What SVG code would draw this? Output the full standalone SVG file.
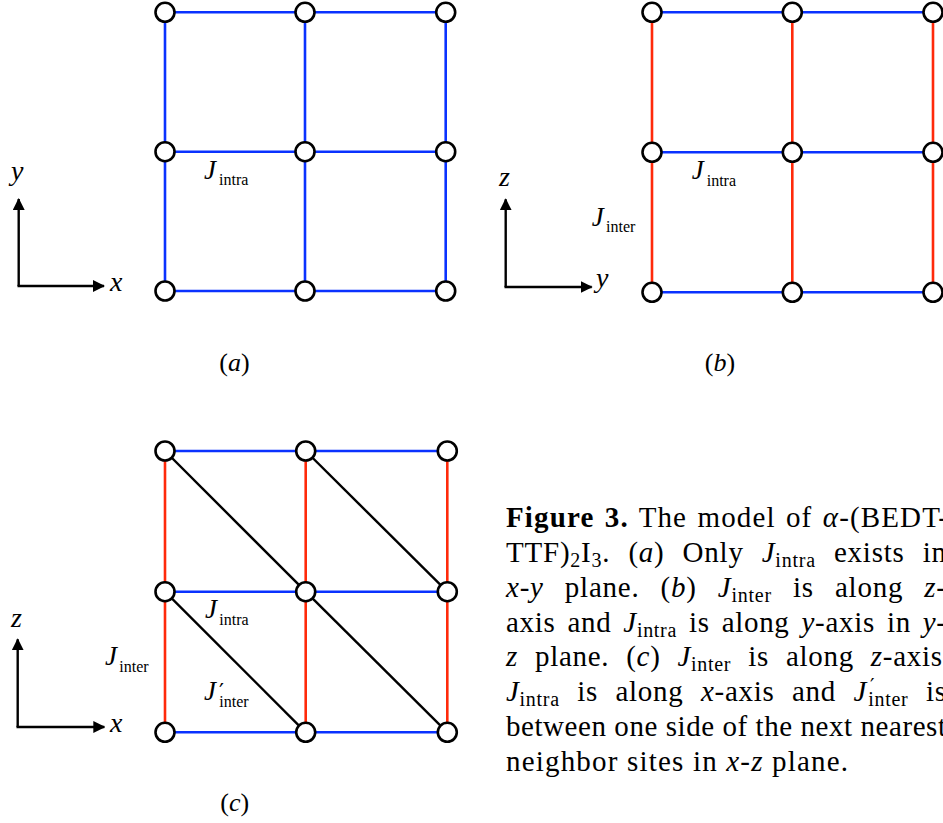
<svg xmlns="http://www.w3.org/2000/svg" width="943" height="823" viewBox="0 0 943 823">
<style>
.b{stroke:#0a32ff;stroke-width:2.6;fill:none}
.r{stroke:#ff2a0a;stroke-width:2.6;fill:none}
.k{stroke:#000;stroke-width:2.4;fill:none}
.ax{stroke:#000;stroke-width:2.4;fill:none;marker-end:url(#ah)}
.n{fill:#fff;stroke:#000;stroke-width:2.6}
text{font-family:"Liberation Serif","Times New Roman",Times,serif;fill:#000}
.it{font-style:italic}
.J{font-style:italic;font-size:27px}
.s{font-size:16px}
.axl{font-style:italic;font-size:28px}
.cap{font-size:26px}
.t{font-size:29px}
.sub{font-size:20px}
.pr{font-family:"DejaVu Sans",sans-serif}
</style>
<defs>
<marker id="ah" markerUnits="userSpaceOnUse" markerWidth="12" markerHeight="12" refX="11" refY="6" orient="auto">
<path d="M0,0 L12,6 L0,12 z" fill="#000"/>
</marker>
</defs>

<g id="connectors">
<!-- panel a -->
<line class="b" x1="165" y1="12.3" x2="445.7" y2="12.3"/>
<line class="b" x1="165" y1="151.7" x2="445.7" y2="151.7"/>
<line class="b" x1="165" y1="291" x2="445.7" y2="291"/>
<line class="b" x1="165" y1="12.3" x2="165" y2="291"/>
<line class="b" x1="305" y1="12.3" x2="305" y2="291"/>
<line class="b" x1="445.7" y1="12.3" x2="445.7" y2="291"/>
<!-- panel b -->
<line class="b" x1="652" y1="12.3" x2="933" y2="12.3"/>
<line class="b" x1="652" y1="152.3" x2="933" y2="152.3"/>
<line class="b" x1="652" y1="292.3" x2="933" y2="292.3"/>
<line class="r" x1="652" y1="12.3" x2="652" y2="292.3"/>
<line class="r" x1="792.3" y1="12.3" x2="792.3" y2="292.3"/>
<line class="r" x1="933" y1="12.3" x2="933" y2="292.3"/>
<!-- panel c -->
<line class="b" x1="165" y1="451" x2="447.3" y2="451"/>
<line class="b" x1="165" y1="591.7" x2="447.3" y2="591.7"/>
<line class="b" x1="165" y1="732.3" x2="447.3" y2="732.3"/>
<line class="r" x1="165" y1="451" x2="165" y2="732.3"/>
<line class="r" x1="305.7" y1="451" x2="305.7" y2="732.3"/>
<line class="r" x1="447.3" y1="451" x2="447.3" y2="732.3"/>
<line class="k" x1="165" y1="451" x2="305.7" y2="591.7"/>
<line class="k" x1="305.7" y1="451" x2="447.3" y2="591.7"/>
<line class="k" x1="165" y1="591.7" x2="305.7" y2="732.3"/>
<line class="k" x1="305.7" y1="591.7" x2="447.3" y2="732.3"/>
</g>

<g id="axes">
<path class="ax" d="M18.7,286 L18.7,199"/>
<path class="ax" d="M17.5,286 L104,286"/>
<text class="axl" x="11" y="180">y</text>
<text class="axl" x="110" y="291">x</text>
<path class="ax" d="M505.7,287 L505.7,199.3"/>
<path class="ax" d="M504.5,287 L591.7,287"/>
<text class="axl" x="499" y="186">z</text>
<text class="axl" x="596" y="287">y</text>
<path class="ax" d="M17.7,727 L17.7,639.3"/>
<path class="ax" d="M16.5,727 L104.3,727"/>
<text class="axl" x="11" y="626.5">z</text>
<text class="axl" x="110" y="731.5">x</text>
</g>

<g id="nodes-a">
<g id="a11"><circle class="n" cx="165" cy="12.3" r="9.5"/></g>
<g id="a12"><circle class="n" cx="305" cy="12.3" r="9.5"/></g>
<g id="a13"><circle class="n" cx="445.7" cy="12.3" r="9.5"/></g>
<g id="a21"><circle class="n" cx="165" cy="151.7" r="9.5"/></g>
<g id="a22"><circle class="n" cx="305" cy="151.7" r="9.5"/></g>
<g id="a23"><circle class="n" cx="445.7" cy="151.7" r="9.5"/></g>
<g id="a31"><circle class="n" cx="165" cy="291" r="9.5"/></g>
<g id="a32"><circle class="n" cx="305" cy="291" r="9.5"/></g>
<g id="a33"><circle class="n" cx="445.7" cy="291" r="9.5"/></g>
</g>
<g id="nodes-b">
<g id="b11"><circle class="n" cx="652" cy="12.3" r="9.5"/></g>
<g id="b12"><circle class="n" cx="792.3" cy="12.3" r="9.5"/></g>
<g id="b13"><circle class="n" cx="933" cy="12.3" r="9.5"/></g>
<g id="b21"><circle class="n" cx="652" cy="152.3" r="9.5"/></g>
<g id="b22"><circle class="n" cx="792.3" cy="152.3" r="9.5"/></g>
<g id="b23"><circle class="n" cx="933" cy="152.3" r="9.5"/></g>
<g id="b31"><circle class="n" cx="652" cy="292.3" r="9.5"/></g>
<g id="b32"><circle class="n" cx="792.3" cy="292.3" r="9.5"/></g>
<g id="b33"><circle class="n" cx="933" cy="292.3" r="9.5"/></g>
</g>
<g id="nodes-c">
<g id="c11"><circle class="n" cx="165" cy="451" r="9.5"/></g>
<g id="c12"><circle class="n" cx="305.7" cy="451" r="9.5"/></g>
<g id="c13"><circle class="n" cx="447.3" cy="451" r="9.5"/></g>
<g id="c21"><circle class="n" cx="165" cy="591.7" r="9.5"/></g>
<g id="c22"><circle class="n" cx="305.7" cy="591.7" r="9.5"/></g>
<g id="c23"><circle class="n" cx="447.3" cy="591.7" r="9.5"/></g>
<g id="c31"><circle class="n" cx="165" cy="732.3" r="9.5"/></g>
<g id="c32"><circle class="n" cx="305.7" cy="732.3" r="9.5"/></g>
<g id="c33"><circle class="n" cx="447.3" cy="732.3" r="9.5"/></g>
</g>

<g id="labels">
<text class="J" x="204" y="179">J</text><text class="s" x="219" y="185">intra</text>
<text class="J" x="691.7" y="179">J</text><text class="s" x="706.7" y="185.7">intra</text>
<text class="J" x="591.7" y="225.5">J</text><text class="s" x="606" y="232">inter</text>
<text class="J" x="205" y="617.5">J</text><text class="s" x="219.3" y="625">intra</text>
<text class="J" x="105" y="664.5">J</text><text class="s" x="119.3" y="671.7">inter</text>
<text class="J" x="204" y="699.5">J</text><text class="pr" x="219" y="699" font-size="22">′</text><text class="s" x="219.3" y="706.7">inter</text>
</g>

<g id="captions">
<text class="cap" x="234.5" y="371" text-anchor="middle">(<tspan class="it">a</tspan>)</text>
<text class="cap" x="720" y="371" text-anchor="middle">(<tspan class="it">b</tspan>)</text>
<text class="cap" x="234.7" y="811" text-anchor="middle">(<tspan class="it">c</tspan>)</text>
</g>

<g id="figure-caption">
<text class="t" x="506" y="527" word-spacing="2" textLength="442" lengthAdjust="spacing"><tspan font-weight="bold">Figure 3.</tspan> The model of <tspan class="it">α</tspan>-(BEDT-</text>
<text class="t" x="506" y="561.9" word-spacing="10" textLength="440" lengthAdjust="spacing">TTF)<tspan class="sub" dy="5">2</tspan><tspan dy="-5">I</tspan><tspan class="sub" dy="5">3</tspan><tspan dy="-5">. (</tspan><tspan class="it">a</tspan>) Only <tspan class="it">J</tspan><tspan class="sub" dy="5">intra</tspan><tspan dy="-5"> exists in</tspan></text>
<text class="t" x="506" y="596.7" word-spacing="13" textLength="440" lengthAdjust="spacing"><tspan class="it">x</tspan>-<tspan class="it">y</tspan> plane. (<tspan class="it">b</tspan>) <tspan class="it">J</tspan><tspan class="sub" dy="5">inter</tspan><tspan dy="-5"> is along </tspan><tspan class="it">z</tspan>-</text>
<text class="t" x="506" y="631.6" word-spacing="4" textLength="440" lengthAdjust="spacing">axis and <tspan class="it">J</tspan><tspan class="sub" dy="5">intra</tspan><tspan dy="-5"> is along </tspan><tspan class="it">y</tspan>-axis in <tspan class="it">y</tspan>-</text>
<text class="t" x="506" y="666.4" word-spacing="9" textLength="436" lengthAdjust="spacing"><tspan class="it">z</tspan> plane. (<tspan class="it">c</tspan>) <tspan class="it">J</tspan><tspan class="sub" dy="5">inter</tspan><tspan dy="-5"> is along </tspan><tspan class="it">z</tspan>-axis</text>
<text class="t" x="506" y="701.3" word-spacing="9.5" textLength="440" lengthAdjust="spacing"><tspan class="it">J</tspan><tspan class="sub" dy="5">intra</tspan><tspan dy="-5"> is along </tspan><tspan class="it">x</tspan>-axis and <tspan class="it">J</tspan><tspan class="sub pr" dx="3" dy="-9" font-size="18">′</tspan><tspan class="sub" dx="-7" dy="14">inter</tspan><tspan dy="-5"> is</tspan></text>
<text class="t" x="506" y="736.1" textLength="440" lengthAdjust="spacing">between one side of the next nearest</text>
<text class="t" x="506" y="771" textLength="342" lengthAdjust="spacing">neighbor sites in <tspan class="it">x</tspan>-<tspan class="it">z</tspan> plane.</text>
</g>
</svg>
